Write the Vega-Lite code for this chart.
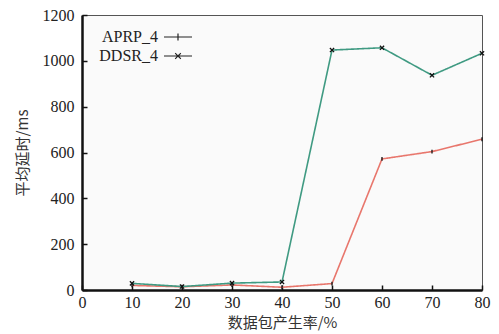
{
  "$schema": "https://vega.github.io/schema/vega-lite/v6.json",
  "autosize": "none",
  "width": 400,
  "height": 275,
  "padding": {"left": 82, "top": 15, "right": 17, "bottom": 44},
  "background": "white",
  "config": {
    "view": {"stroke": "#555", "strokeWidth": 1, "fill": "#fafafa"}
  },
  "data": {
    "values": [
      {"rate": 10, "delay": 20, "series": "APRP_4"},
      {"rate": 20, "delay": 14, "series": "APRP_4"},
      {"rate": 30, "delay": 22, "series": "APRP_4"},
      {"rate": 40, "delay": 12, "series": "APRP_4"},
      {"rate": 50, "delay": 28, "series": "APRP_4"},
      {"rate": 60, "delay": 572, "series": "APRP_4"},
      {"rate": 70, "delay": 604, "series": "APRP_4"},
      {"rate": 80, "delay": 658, "series": "APRP_4"},
      {"rate": 10, "delay": 29, "series": "DDSR_4"},
      {"rate": 20, "delay": 15, "series": "DDSR_4"},
      {"rate": 30, "delay": 30, "series": "DDSR_4"},
      {"rate": 40, "delay": 35, "series": "DDSR_4"},
      {"rate": 50, "delay": 1047, "series": "DDSR_4"},
      {"rate": 60, "delay": 1057, "series": "DDSR_4"},
      {"rate": 70, "delay": 937, "series": "DDSR_4"},
      {"rate": 80, "delay": 1033, "series": "DDSR_4"}
    ]
  },
  "encoding": {
    "x": {
      "field": "rate", "type": "quantitative",
      "scale": {"domain": [0, 80], "nice": false},
      "axis": {
        "values": [0, 10, 20, 30, 40, 50, 60, 70, 80], "format": "d",
        "title": "数据包产生率/%",
        "labelFont": "Liberation Serif", "labelFontSize": 16, "labelColor": "#222",
        "titleFont": "Noto Sans CJK SC", "titleFontSize": 15, "titleFontWeight": "normal", "titleColor": "#333",
        "domainColor": "#111", "domainWidth": 2.5, "tickColor": "#111", "tickWidth": 1.5, "tickSize": -5,
        "grid": false, "labelPadding": 9, "titlePadding": 5, "labelFlush": false
      }
    },
    "y": {
      "field": "delay", "type": "quantitative",
      "scale": {"domain": [0, 1200], "nice": false},
      "axis": {
        "values": [0, 200, 400, 600, 800, 1000, 1200], "format": "d",
        "title": "平均延时/ms",
        "labelFont": "Liberation Serif", "labelFontSize": 16, "labelColor": "#222",
        "titleFont": "Noto Sans CJK SC", "titleFontSize": 15, "titleFontWeight": "normal", "titleColor": "#333",
        "domainColor": "#111", "domainWidth": 2.5, "tickColor": "#111", "tickWidth": 1.5, "tickSize": -5,
        "grid": false, "labelPadding": 13, "titlePadding": 12, "labelFlush": false
      }
    }
  },
  "layer": [
    {
      "mark": {"type": "line", "strokeWidth": 1.6},
      "encoding": {
        "color": {
          "field": "series", "type": "nominal",
          "scale": {"domain": ["APRP_4", "DDSR_4"], "range": ["#e8766c", "#3f9a82"]},
          "legend": null
        },
        "strokeDash": {
          "field": "series", "type": "nominal",
          "scale": {"range": [[1, 0], [1, 0]]},
          "legend": {
            "title": null,
            "orient": "none",
            "legendX": 88,
            "legendY": 14,
            "padding": 0,
            "labelFont": "Liberation Serif",
            "labelFontSize": 16,
            "labelColor": "#222",
            "labelAlign": "right",
            "labelOffset": -28,
            "rowPadding": 3,
            "encode": {
              "symbols": {
                "update": {
                  "size": {"value": 196},
                  "stroke": {"value": "#222"},
                  "strokeWidth": {"value": 1.2},
                  "fill": {"value": "transparent"},
                  "opacity": {"value": 1},
                  "shape": {"signal": "datum.value === 'APRP_4' ? 'M-2,0H2M0,-0.5V0.5' : 'M-2,0H2M-0.4,-0.4L0.4,0.4M-0.4,0.4L0.4,-0.4'"}
                }
              }
            }
          }
        }
      }
    },
    {
      "mark": {"type": "point", "filled": false, "stroke": "#111", "strokeWidth": 1.3, "size": 49, "opacity": 1},
      "encoding": {
        "shape": {
          "field": "series", "type": "nominal",
          "scale": {"domain": ["APRP_4", "DDSR_4"], "range": ["M0,-0.55V0.55", "M-0.6,-0.6L0.6,0.6M-0.6,0.6L0.6,-0.6"]},
          "legend": null
        }
      }
    }
  ]
}
